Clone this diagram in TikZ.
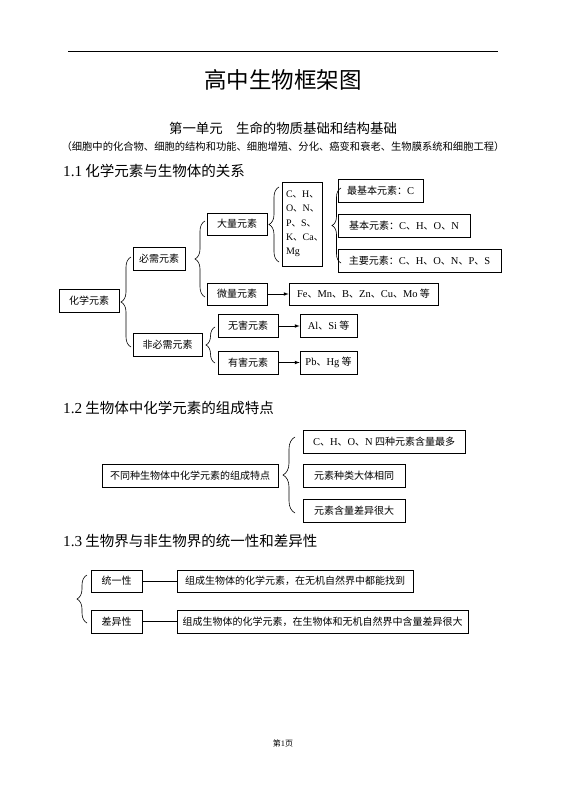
\documentclass[tikz,border=0pt]{standalone}
\usepackage{fontspec}
\setmainfont{Noto Sans CJK SC}
\newfontfamily\en[Scale=1.05]{Liberation Serif}
\usepackage{tikz}
\tikzset{>=latex}
\usetikzlibrary{decorations.pathreplacing}
\tikzset{
  box/.style={draw, line width=0.7pt, inner sep=0pt, minimum height=23,
    font=\fontsize{10}{11}\selectfont},
  curly/.style={decorate, decoration={brace, amplitude=#1}, line width=0.6pt},
  heading/.style={anchor=west, inner sep=0pt, font=\fontsize{14.5}{16}\selectfont},
}

\begin{document}
\begin{tikzpicture}[x=1pt, y=-1pt]
                \useasboundingbox (0,0) rectangle (566,800);
                \draw[line width=0.8pt] (68,51) -- (498,51);
                \node (title) at (283,80) {\fontsize{22.5}{24}\selectfont 高中生物框架图};
                \node (unit) at (283,128) {\fontsize{13.4}{15}\selectfont 第一单元　生命的物质基础和结构基础};
                \node (intro) at (283,147) {\fontsize{10.3}{12}\selectfont （细胞中的化合物、细胞的结构和功能、细胞增殖、分化、癌变和衰老、生物膜系统和细胞工程）};
                % 1.1
                \node[heading] (sec1) at (63,171) {{\en 1.1} 化学元素与生物体的关系};
                \node[box, minimum width=60] (hxys) at (89,301) {化学元素};
                \node[box, minimum width=52] (bxys) at (159,259) {必需元素};
                \node[box, minimum width=69] (fbxys) at (167.5,344.5) {非必需元素};
                \node[box, minimum width=60, minimum height=22] (dlys) at (237,224) {大量元素};
                \node[box, minimum width=60, minimum height=22] (wlys) at (237,294) {微量元素};
                \node[box, minimum width=60] (whys) at (248,326) {无害元素};
                \node[box, minimum width=60] (yhys) at (248,362.5) {有害元素};
                \node[box, minimum width=40, minimum height=84, text width=32, align=left,
                      font=\fontsize{9.5}{14.3}\selectfont] (dllist) at (302,224)
                      {{\en C}、{\en H}、\\{\en O}、{\en N}、\\{\en P}、{\en S}、\\{\en K}、{\en Ca}、\\{\en Mg}};
                \node[box, minimum width=85] (zjb) at (380.5,190.5) {最基本元素：{\en C}};
                \node[box, minimum width=132] (jb) at (404,226) {基本元素：{\en C}、{\en H}、{\en O}、{\en N}};
                \node[box, minimum width=163] (zy) at (419.5,261) {主要元素：{\en C}、{\en H}、{\en O}、{\en N}、{\en P}、{\en S}};
                \node[box, minimum width=149, minimum height=22] (wllist) at (363.5,294) {{\en Fe}、{\en Mn}、{\en B}、{\en Zn}、{\en Cu}、{\en Mo} 等};
                \node[box, minimum width=57] (whlist) at (328.5,326) {{\en Al}、{\en Si} 等};
                \node[box, minimum width=57] (yhlist) at (328.5,362.5) {{\en Pb}、{\en Hg} 等};
                \draw[curly=10pt] (131,347) -- (131,257);
                \draw[curly=10pt] (205,297) -- (205,221);
                \draw[curly=9pt] (215,363) -- (215,327);
                \draw[curly=10pt] (279,262) -- (279,187);
                \draw[curly=9pt] (341,263) -- (341,188);
                \draw[->, line width=0.7pt] (wlys) -- (wllist);
                \draw[->, line width=0.7pt] (whys) -- (whlist);
                \draw[->, line width=0.7pt] (yhys) -- (yhlist);
                % 1.2
                \node[heading] (sec2) at (63,408) {{\en 1.2} 生物体中化学元素的组成特点};
                \node[box, minimum width=176] (tedian) at (190,475.5) {不同种生物体中化学元素的组成特点};
                \node[box, minimum width=162] (td1) at (384,441.5) {{\en C}、{\en H}、{\en O}、{\en N} 四种元素含量最多};
                \node[box, minimum width=102] (td2) at (354,476) {元素种类大体相同};
                \node[box, minimum width=102] (td3) at (354,511) {元素含量差异很大};
                \draw[curly=12pt] (295,513) -- (295,437);
                % 1.3
                \node[heading] (sec3) at (63,541) {{\en 1.3} 生物界与非生物界的统一性和差异性};
                \node[box, minimum width=51, minimum height=22] (tyx) at (116.5,581) {统一性};
                \node[box, minimum width=51] (cyx) at (116.5,621.5) {差异性};
                \node[box, minimum width=236, minimum height=22] (tyxdesc) at (295,581) {组成生物体的化学元素，在无机自然界中都能找到};
                \node[box, minimum width=291] (cyxdesc) at (322.5,621.5) {组成生物体的化学元素，在生物体和无机自然界中含量差异很大};
                \draw[curly=10pt] (87,623) -- (87,575);
                \draw[line width=0.7pt] (tyx) -- (tyxdesc);
                \draw[line width=0.7pt] (cyx) -- (cyxdesc);
                \node (page) at (283,743) {\fontsize{8}{9}\selectfont 第{\en 1}页};
            \end{tikzpicture}
\end{document}
